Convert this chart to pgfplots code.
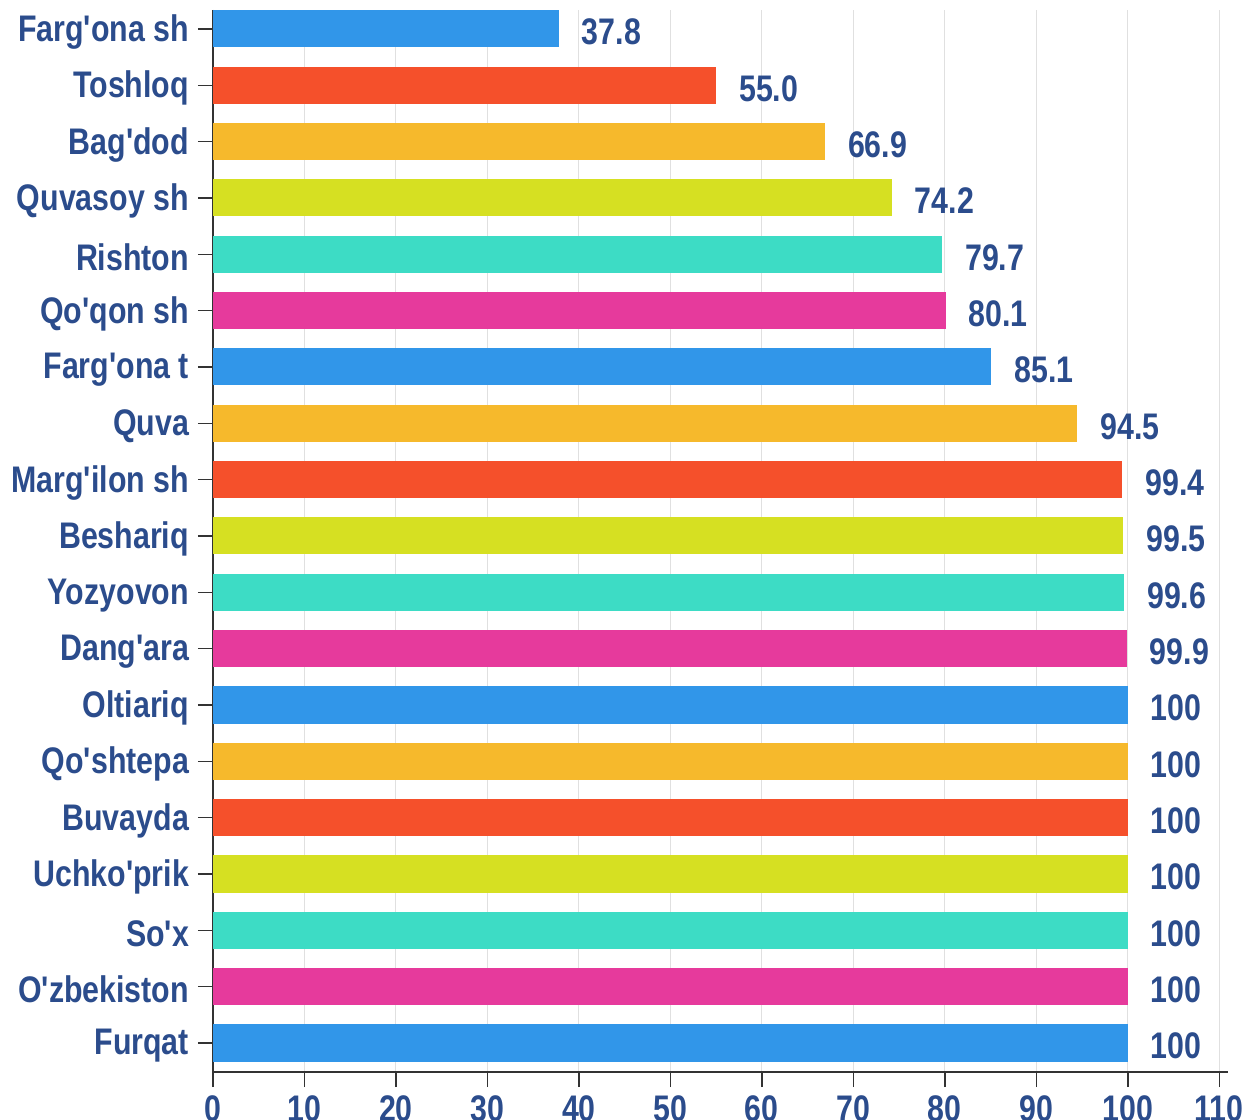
\documentclass[border=0pt]{standalone}
\usepackage{pgfplots}
\pgfplotsset{compat=1.18}
\usepackage{fontspec}
\setmainfont{Liberation Sans}
\newfontfamily\lab{Liberation Sans}[FakeStretch=0.82, Ligatures=TeXOff]
\definecolor{txt}{HTML}{2B4C8C}
\definecolor{cblue}{HTML}{3196E9}
\definecolor{cred}{HTML}{F5502B}
\definecolor{cyel}{HTML}{F6B92C}
\definecolor{clime}{HTML}{D6E022}
\definecolor{cteal}{HTML}{3DDCC5}
\definecolor{cmag}{HTML}{E63A9C}
\newcommand{\labfont}{\lab\bfseries\fontsize{18.5}{20}\selectfont}
% one bar: colour, value, row, printed label
\newcommand{\hb}[4]{\addplot[fill=#1, draw=none] coordinates {(#2,#3) [#4]};}

\begin{document}
\begin{tikzpicture}
\begin{axis}[
  at={(0,0)}, anchor=south west,
  width=507.7pt, height=531pt, scale only axis,
  xbar, bar width=0.657, clip=false,
  every axis plot/.append style={bar shift=0pt},
  xmin=0, xmax=111,
  ymin=-0.337, ymax=18.515, y dir=reverse,
  axis lines=left, axis line style={-, line width=0.75pt, color=black!80},
  xtick={0,10,...,110}, ytick={0,...,18},
  yticklabels={Farg'ona sh,Toshloq,Bag'dod,Quvasoy sh,Rishton,Qo'qon sh,Farg'ona t,Quva,Marg'ilon sh,Beshariq,Yozyovon,Dang'ara,Oltiariq,Qo'shtepa,Buvayda,Uchko'prik,So'x,O'zbekiston,Furqat},
  tick align=outside, major tick length=7.5pt,
  tick style={line width=0.75pt, color=black!80},
  xmajorgrids, major x grid style={line width=0.5pt, color=black!12},
  /pgf/number format/assume math mode=true,
  ticklabel style={font=\labfont, color=txt},
  xticklabel style={yshift=-1pt},
  yticklabel style={yshift=-1.5pt, xshift=-1pt},
  point meta=explicit symbolic,
  nodes near coords,
  every node near coord/.append style={font=\labfont, color=txt, anchor=west, xshift=8pt, yshift=-1.5pt},
]
\hb{cblue}{37.8}{0}{37.8}
\hb{cred}{55.0}{1}{55.0}
\hb{cyel}{66.9}{2}{66.9}
\hb{clime}{74.2}{3}{74.2}
\hb{cteal}{79.7}{4}{79.7}
\hb{cmag}{80.1}{5}{80.1}
\hb{cblue}{85.1}{6}{85.1}
\hb{cyel}{94.5}{7}{94.5}
\hb{cred}{99.4}{8}{99.4}
\hb{clime}{99.5}{9}{99.5}
\hb{cteal}{99.6}{10}{99.6}
\hb{cmag}{99.9}{11}{99.9}
\hb{cblue}{100}{12}{100}
\hb{cyel}{100}{13}{100}
\hb{cred}{100}{14}{100}
\hb{clime}{100}{15}{100}
\hb{cteal}{100}{16}{100}
\hb{cmag}{100}{17}{100}
\hb{cblue}{100}{18}{100}
\end{axis}
\pgfresetboundingbox
\path (-106.5pt,-23.5pt) rectangle (517pt,536pt);
\end{tikzpicture}
\end{document}
